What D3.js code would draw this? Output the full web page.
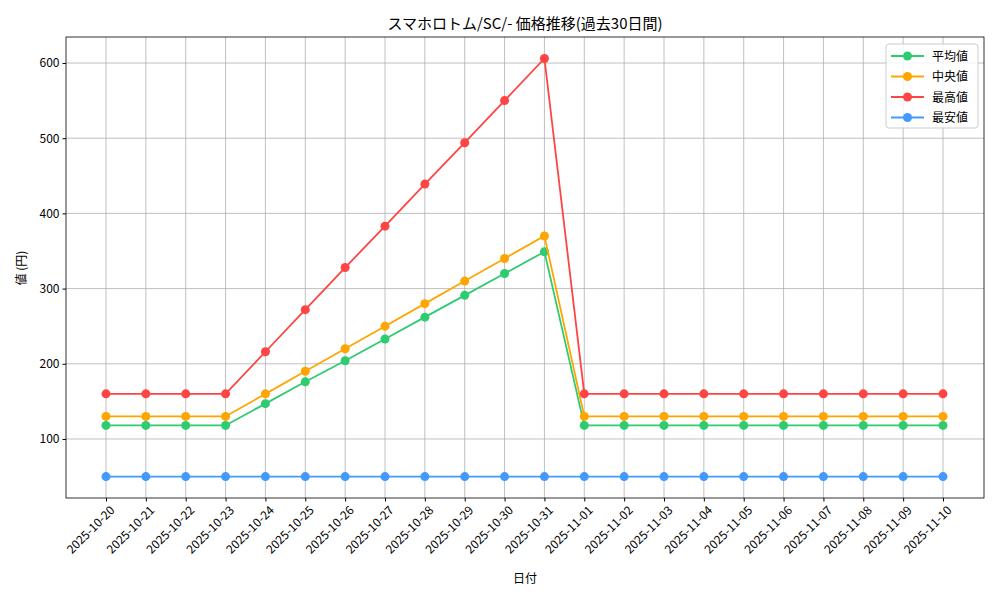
<!DOCTYPE html><html><head><meta charset="utf-8"><script src="https://cdn.jsdelivr.net/npm/d3@7"></script>
<style>body{margin:0;background:#fff}text{font-family:"Noto Sans CJK JP",sans-serif}</style></head><body><svg id="c" width="1000" height="600"></svg>
<script>
const dates=["2025-10-20","2025-10-21","2025-10-22","2025-10-23","2025-10-24","2025-10-25","2025-10-26","2025-10-27","2025-10-28","2025-10-29","2025-10-30","2025-10-31","2025-11-01","2025-11-02","2025-11-03","2025-11-04","2025-11-05","2025-11-06","2025-11-07","2025-11-08","2025-11-09","2025-11-10"];
const avgVals=[118,118,118,118,147,176,204,233,262,291,320,349,118,118,118,118,118,118,118,118,118,118];
const medVals=[130,130,130,130,160,190,220,250,280,310,340,370,130,130,130,130,130,130,130,130,130,130];
const maxVals=[160,160,160,160,216,272,328,383,439,494,550,606,160,160,160,160,160,160,160,160,160,160];
const minVals=[50,50,50,50,50,50,50,50,50,50,50,50,50,50,50,50,50,50,50,50,50,50];
const yTicks=[100,200,300,400,500,600];
const series=[{name:"平均値",v:avgVals,c:"#2ecc71"},{name:"中央値",v:medVals,c:"#ffa500"},{name:"最高値",v:maxVals,c:"#ff4444"},{name:"最安値",v:minVals,c:"#4499ff"}];
const svg=d3.select("#c");
const L=66,R=984,T=37,B=498;
const x=d3.scalePoint().domain(dates).range([106,943]);
const y=d3.scaleLinear().domain([21.5,634.6]).range([B,T]);
const g=svg.append("g");
g.selectAll(".gx").data(dates).enter().append("line").attr("x1",d=>x(d)).attr("x2",d=>x(d)).attr("y1",T).attr("y2",B).attr("stroke","#b0b0b0").attr("stroke-width",0.8);
g.selectAll(".gy").data(yTicks).enter().append("line").attr("x1",L).attr("x2",R).attr("y1",d=>y(d)).attr("y2",d=>y(d)).attr("stroke","#b0b0b0").attr("stroke-width",0.8);
svg.append("g").attr("transform",`translate(0,${B})`).call(d3.axisBottom(x).tickSizeOuter(0).tickSize(3.5)).call(a=>a.select(".domain").remove()).selectAll("text").attr("font-size",12).attr("text-anchor","end").attr("x",0).attr("y",0).attr("dy","0.35em").attr("transform","translate(6,10) rotate(-45)").attr("fill","#000");
svg.append("g").attr("transform",`translate(${L},0)`).call(d3.axisLeft(y).tickValues(yTicks).tickSize(3.5)).call(a=>a.select(".domain").remove()).selectAll("text").attr("font-size",12).attr("fill","#000");
svg.append("rect").attr("x",L).attr("y",T).attr("width",R-L).attr("height",B-T).attr("fill","none").attr("stroke","#000").attr("stroke-width",0.8);
series.forEach(s=>{
 svg.append("path").datum(s.v).attr("fill","none").attr("stroke",s.c).attr("stroke-width",1.8).attr("d",d3.line().x((d,i)=>x(dates[i])).y(d=>y(d)));
 svg.append("g").selectAll("circle").data(s.v).enter().append("circle").attr("cx",(d,i)=>x(dates[i])).attr("cy",d=>y(d)).attr("r",4.5).attr("fill",s.c);
});
svg.append("text").attr("x",525).attr("y",29).attr("text-anchor","middle").attr("font-size",15).text("スマホロトム/SC/- 価格推移(過去30日間)");
svg.append("text").attr("x",525).attr("y",583).attr("text-anchor","middle").attr("font-size",12).text("日付");
svg.append("text").attr("transform","translate(26,268) rotate(-90)").attr("text-anchor","middle").attr("font-size",12).text("値 (円)");
const lg=svg.append("g").attr("transform","translate(886,44)");
lg.append("rect").attr("width",92).attr("height",84).attr("rx",3).attr("fill","#fff").attr("fill-opacity",0.8).attr("stroke","#ccc");
series.forEach((s,i)=>{const yy=12+i*20.5;
 lg.append("line").attr("x1",5).attr("x2",38).attr("y1",yy).attr("y2",yy).attr("stroke",s.c).attr("stroke-width",1.8);
 lg.append("circle").attr("cx",21.5).attr("cy",yy).attr("r",4.5).attr("fill",s.c);
 lg.append("text").attr("x",46).attr("y",yy+4.5).attr("font-size",12).text(s.name);});
</script></body></html>
